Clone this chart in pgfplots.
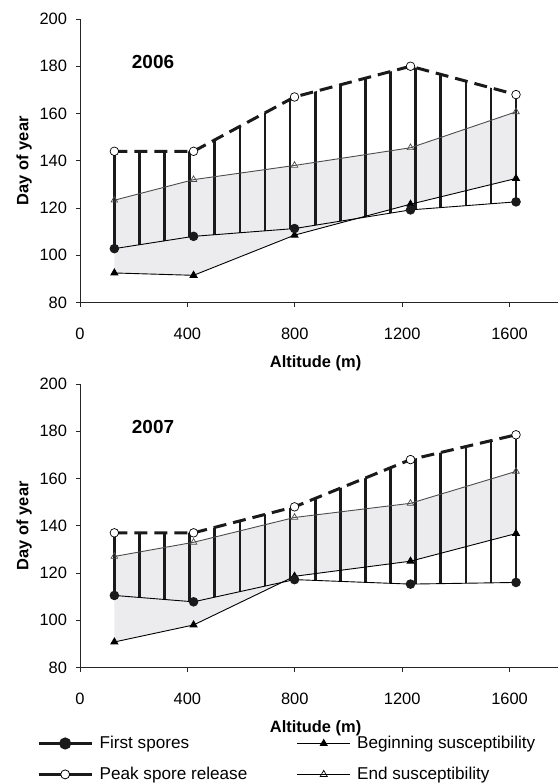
\documentclass[border=0pt]{standalone}
\usepackage{pgfplots}
\pgfplotsset{compat=1.18}
\usepackage{pgfplotstable}
\usepgfplotslibrary{fillbetween}
\usetikzlibrary{patterns.meta}
\usepackage{fontspec}
\setmainfont{Liberation Sans}

\definecolor{hatch}{HTML}{1A1A1A}
\definecolor{endgray}{HTML}{4D4D4D}
\definecolor{bandgray}{HTML}{ECECEE}

% altitude (m) against day of year
\pgfplotstableread{
alt   first  peak   begin  end
128   102.8  144.0  92.5   123.3
423   108.0  144.0  91.5   132.0
799   111.3  167.0  108.5  138.0
1231  119.2  180.0  121.6  145.5
1624  122.6  168.0  132.5  160.7
}\yearA

\pgfplotstableread{
alt   first  peak   begin  end
128   110.5  137.0  90.8   127.0
423   107.8  137.0  98.0   133.0
799   117.2  148.0  118.6  143.5
1231  115.3  168.0  125.0  149.5
1624  116.0  178.5  136.7  163.0
}\yearB

\pgfplotsset{
  dayaxis/.style={
    x=0.2685bp, y=2.3625bp,
    xmin=0, xmax=1780, ymin=80, ymax=200,
    anchor=south west,
    axis x line*=bottom, axis y line*=left,
    axis line style={line width=1bp, black!85},
    xtick={0,400,...,1600}, ytick={80,100,...,200},
    tick align=outside, major tick length=4.5bp,
    tick style={line width=0.8bp, black!85},
    font=\fontsize{16.5}{19}\selectfont,
    /pgf/number format/assume math mode=true,
    /pgf/number format/1000 sep={},
    xticklabel style={yshift=-18bp},
    yticklabel style={xshift=-5bp},
    xlabel={\bfseries Altitude (m)},
    ylabel={\bfseries Day of year},
    xlabel style={at={(axis description cs:0.493,0)}, anchor=center, yshift=-61bp},
    ylabel style={at={(axis description cs:-0.117,0.5)}, anchor=center},
  },
  thinline/.style={black, line width=0.9bp},
  peakline/.style={hatch, line width=3bp, dash pattern=on 13bp off 7bp,
    mark=*, mark size=4.3bp, mark options={solid, fill=white, draw=black, line width=0.7bp}},
  firstline/.style={thinline, mark=*, mark size=4.3bp, mark options={fill=hatch, draw=hatch}},
  beginline/.style={thinline, mark=triangle*, mark size=4bp, mark options={fill=black}},
  endline/.style={endgray, line width=0.9bp, mark=triangle, mark size=3.8bp,
    mark options={fill=white, draw=endgray, line width=0.7bp}},
  bars/.style={draw=none, pattern={Lines[angle=90, distance=25.105bp, line width=2.6bp, xshift=13.95bp]}, pattern color=hatch},
  endbar/.style={hatch, line width=2.6bp, forget plot},
}

\begin{document}
\begin{tikzpicture}

% 2006
\begin{axis}[dayaxis, at={(80bp,481.5bp)}]
  \addplot[draw=none, name path=firA, forget plot] table[x=alt, y=first]{\yearA};
  \addplot[draw=none, name path=peakA, forget plot] table[x=alt, y=peak]{\yearA};
  \addplot[draw=none, name path=begA, forget plot] table[x=alt, y=begin]{\yearA};
  \addplot[draw=none, name path=endA, forget plot] table[x=alt, y=end]{\yearA};
  \addplot[fill=bandgray, draw=none, forget plot] fill between[of=begA and endA];
  \addplot[bars, forget plot] fill between[of=firA and peakA];
  \addplot[endbar] coordinates {(128,102.8) (128,144.0)};
  \addplot[endbar] coordinates {(1624,122.6) (1624,168.0)};
  \addplot[endline, forget plot] table[x=alt, y=end]{\yearA};
  \addplot[beginline, forget plot] table[x=alt, y=begin]{\yearA};
  \addplot[firstline, forget plot] table[x=alt, y=first]{\yearA};
  \addplot[peakline, forget plot] table[x=alt, y=peak]{\yearA};
  \node[font=\fontsize{19}{22}\selectfont\bfseries] at (axis cs:272,181.8) {2006};
\end{axis}

% 2007
\begin{axis}[dayaxis, at={(80bp,116.5bp)},
  legend columns=2,
  legend cell align=left,
  legend style={at={(axis description cs:-0.09,-0.234)}, anchor=north west,
    draw=none, fill=none, inner sep=0pt, row sep=12bp,
    nodes={inner sep=2.5bp},
    font=\fontsize{17.2}{20}\selectfont,
    /tikz/every odd column/.append style={column sep=4bp},
    /tikz/every even column/.append style={column sep=47bp}},
  legend image code/.code={\draw[mark repeat=2, mark phase=2, #1]
    plot coordinates {(0bp,0bp) (26.5bp,0bp) (53bp,0bp)};},
]
  \addlegendimage{hatch, line width=3bp, mark=*, mark size=4.5bp, mark options={fill=hatch}}
  \addlegendentry{First spores}
  \addlegendimage{black, line width=0.8bp, mark=triangle*, mark size=4bp, mark options={fill=black}}
  \addlegendentry{Beginning susceptibility}
  \addlegendimage{hatch, line width=3bp, mark=*, mark size=4.5bp, mark options={fill=white, draw=black, line width=0.8bp}}
  \addlegendentry{Peak spore release}
  \addlegendimage{black, line width=0.8bp, mark=triangle, mark size=4bp, mark options={fill=white, line width=0.7bp}}
  \addlegendentry{End susceptibility}

  \addplot[draw=none, name path=firB, forget plot] table[x=alt, y=first]{\yearB};
  \addplot[draw=none, name path=peakB, forget plot] table[x=alt, y=peak]{\yearB};
  \addplot[draw=none, name path=begB, forget plot] table[x=alt, y=begin]{\yearB};
  \addplot[draw=none, name path=endB, forget plot] table[x=alt, y=end]{\yearB};
  \addplot[fill=bandgray, draw=none, forget plot] fill between[of=begB and endB];
  \addplot[bars, forget plot] fill between[of=firB and peakB];
  \addplot[endbar] coordinates {(128,110.5) (128,137.0)};
  \addplot[endbar] coordinates {(1624,116.0) (1624,178.5)};
  \addplot[endline, forget plot] table[x=alt, y=end]{\yearB};
  \addplot[beginline, forget plot] table[x=alt, y=begin]{\yearB};
  \addplot[firstline, forget plot] table[x=alt, y=first]{\yearB};
  \addplot[peakline, forget plot] table[x=alt, y=peak]{\yearB};
  \node[font=\fontsize{19}{22}\selectfont\bfseries] at (axis cs:272,181.8) {2007};
\end{axis}
\path (0,0) rectangle (558bp,784bp);
\end{tikzpicture}
\end{document}
